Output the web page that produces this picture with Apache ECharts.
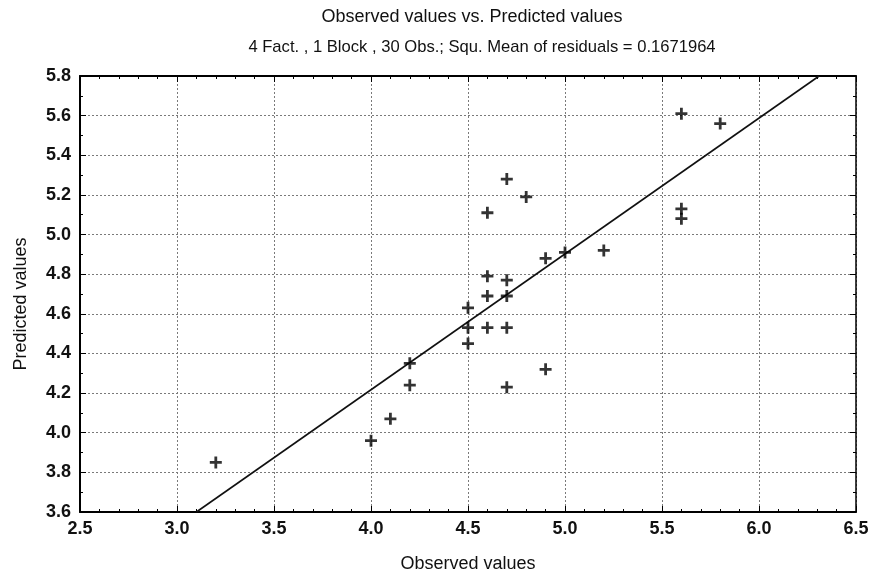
<!DOCTYPE html>
<html>
<head>
<meta charset="utf-8">
<title>Observed values vs. Predicted values</title>
<script src="https://cdn.jsdelivr.net/npm/echarts@6/dist/echarts.min.js"></script>
<style>
  html, body { margin: 0; padding: 0; background: #fff; }
  #chart { width: 872px; height: 578px; }
</style>
</head>
<body>
<div id="chart"></div>
<script>
// Observed (x) and predicted (y) values, one entry per plotted observation
const observed = [3.2, 4.0, 4.1, 4.2, 4.2, 4.5, 4.5, 4.5, 4.6, 4.6, 4.6, 4.6, 4.7, 4.7, 4.7, 4.7, 4.7, 4.8, 4.9, 4.9, 5.0, 5.2, 5.6, 5.6, 5.6, 5.8];
const predicted = [3.85, 3.96, 4.07, 4.24, 4.35, 4.45, 4.53, 4.63, 4.53, 4.69, 4.79, 5.11, 4.23, 4.53, 4.69, 4.77, 5.28, 5.19, 4.32, 4.88, 4.91, 4.92, 5.08, 5.13, 5.61, 5.56];

// Fitted line endpoints (observed, predicted)
const fitObserved = [3.1, 6.31];
const fitPredicted = [3.6, 5.8];

// Axis tick labels
const xTickLabels = ['2.5', '3.0', '3.5', '4.0', '4.5', '5.0', '5.5', '6.0', '6.5'];
const yTickLabels = ['3.6', '3.8', '4.0', '4.2', '4.4', '4.6', '4.8', '5.0', '5.2', '5.4', '5.6', '5.8'];

const titleText = 'Observed values vs. Predicted values';
const subtitleText = '4 Fact. , 1 Block , 30 Obs.; Squ. Mean of residuals = 0.1671964';

const FONT = '"Liberation Sans", Arial, sans-serif';
const INK = '#111';
const GRID_LINE = { show: true, lineStyle: { color: '#7a7a7a', width: 1, type: [2, 2] } };
const PLUS = 'path://M4.6,0H7.4V4.6H12V7.4H7.4V12H4.6V7.4H0V4.6H4.6Z';

const points = observed.map((x, i) => [x, predicted[i]]);
const fitLine = fitObserved.map((x, i) => [x, fitPredicted[i]]);

function frameAxis(extra) {
  return Object.assign({
    type: 'value',
    axisLine: { show: true, onZero: false, lineStyle: { color: '#000', width: 2 } },
    axisTick: { show: true, inside: true, length: 6, lineStyle: { color: '#000', width: 1 } },
    minorTick: { show: true, length: 3, lineStyle: { color: '#000', width: 1 } },
    splitLine: { show: false },
    axisLabel: { show: false }
  }, extra);
}

const chart = echarts.init(document.getElementById('chart'), null, { renderer: 'canvas' });

chart.setOption({
  animation: false,
  backgroundColor: '#fff',
  textStyle: { fontFamily: FONT },
  title: [
    {
      text: titleText, left: 467, top: 3, textAlign: 'center',
      textStyle: { fontFamily: FONT, fontSize: 18, fontWeight: 'normal', color: INK }
    },
    {
      text: subtitleText, left: 477, top: 34, textAlign: 'center',
      textStyle: { fontFamily: FONT, fontSize: 16.6, fontWeight: 'normal', color: INK }
    }
  ],
  grid: { left: 80, right: 16, top: 76, bottom: 66, containLabel: false },
  xAxis: [
    frameAxis({
      position: 'bottom', min: 2.5, max: 6.5, interval: 0.5,
      minorTick: { show: true, splitNumber: 5, length: 3, lineStyle: { color: '#000', width: 1 } },
      splitLine: GRID_LINE,
      axisLabel: {
        show: true, margin: 8, fontSize: 18, fontWeight: 'bold', color: INK, fontFamily: FONT,
        formatter: (v, i) => xTickLabels[i]
      },
      name: 'Observed values', nameLocation: 'middle', nameGap: 43,
      nameTextStyle: { fontSize: 18, color: INK, fontFamily: FONT }
    }),
    frameAxis({
      position: 'top', min: 2.5, max: 6.5, interval: 0.5,
      minorTick: { show: true, splitNumber: 5, length: 3, lineStyle: { color: '#000', width: 1 } }
    })
  ],
  yAxis: [
    frameAxis({
      position: 'left', min: 3.6, max: 5.8, interval: 0.2,
      minorTick: { show: true, splitNumber: 2, length: 3, lineStyle: { color: '#000', width: 1 } },
      splitLine: GRID_LINE,
      axisLabel: {
        show: true, margin: 9, fontSize: 18, fontWeight: 'bold', color: INK, fontFamily: FONT,
        formatter: (v, i) => yTickLabels[i]
      },
      name: 'Predicted values', nameLocation: 'middle', nameGap: 50,
      nameTextStyle: { fontSize: 18, color: INK, fontFamily: FONT, padding: [0, 20, 0, 0] }
    }),
    frameAxis({
      position: 'right', min: 3.6, max: 5.8, interval: 0.2,
      axisLine: { show: true, onZero: false, lineStyle: { color: '#000', width: 1.5 } },
      minorTick: { show: true, splitNumber: 2, length: 3, lineStyle: { color: '#000', width: 1 } }
    })
  ],
  series: [
    {
      name: 'fit',
      type: 'line',
      xAxisIndex: 0, yAxisIndex: 0,
      data: fitLine,
      showSymbol: false,
      clip: true,
      lineStyle: { color: '#111', width: 1.6 },
      silent: true,
      z: 3
    },
    {
      name: 'observations',
      type: 'scatter',
      xAxisIndex: 0, yAxisIndex: 0,
      data: points,
      symbol: PLUS,
      symbolSize: 12,
      itemStyle: { color: '#000' },
      z: 4
    }
  ]
});
</script>
</body>
</html>
